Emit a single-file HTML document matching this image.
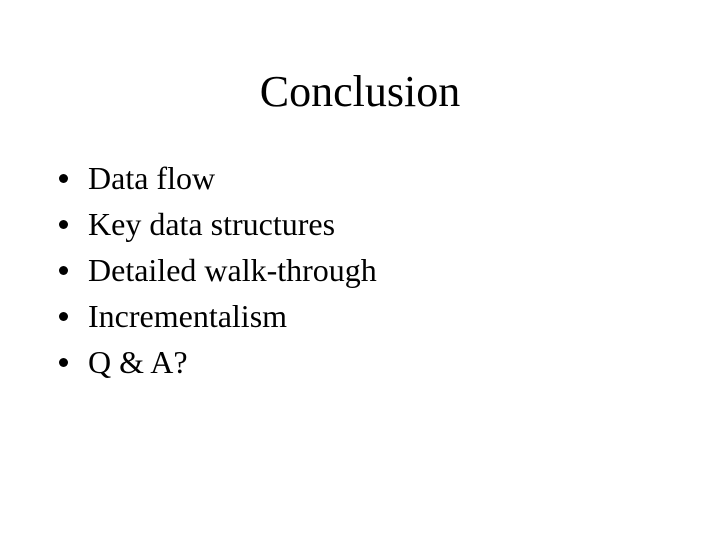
<!DOCTYPE html>
<html><head><style>
html,body{margin:0;padding:0;background:#fff;}
body{width:720px;height:540px;position:relative;overflow:hidden;font-family:"Liberation Serif",serif;color:#000;}
.t{position:absolute;left:0;width:720px;text-align:center;top:66px;font-size:44px;line-height:52px;}
.b{position:absolute;left:88px;font-size:32px;line-height:36px;white-space:nowrap;}
.d{position:absolute;left:59px;width:9px;height:9px;border-radius:50%;background:#000;}
</style></head><body>
<div class="t">Conclusion</div>
<div class="d" style="top:174px"></div><div class="b" style="top:160px">Data flow</div>
<div class="d" style="top:220px"></div><div class="b" style="top:206px">Key data structures</div>
<div class="d" style="top:266px"></div><div class="b" style="top:252px">Detailed walk-through</div>
<div class="d" style="top:312px"></div><div class="b" style="top:298px">Incrementalism</div>
<div class="d" style="top:358px"></div><div class="b" style="top:344px">Q &amp; A?</div>
</body></html>
